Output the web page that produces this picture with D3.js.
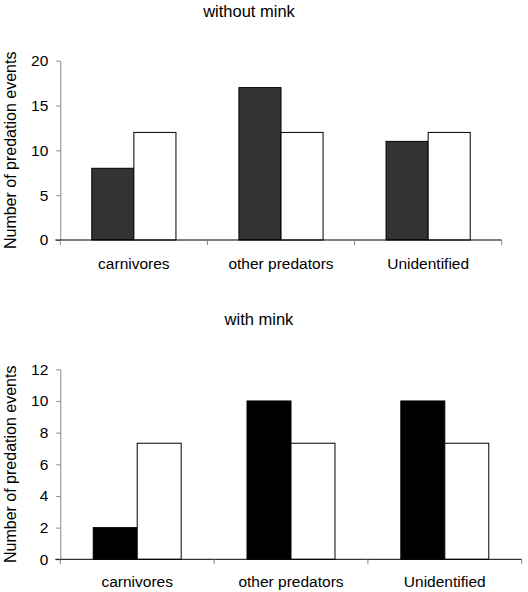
<!DOCTYPE html>
<html>
<head>
<meta charset="utf-8">
<style>
    body { margin: 0; background: #fff; }
    svg { display: block; font-family: "Liberation Sans", Arial, sans-serif; }
</style>
</head>
<body>
<div id="chart"></div>
<script src="https://cdnjs.cloudflare.com/ajax/libs/d3/7.8.5/d3.min.js"></script>
<script>
    let categories = ["carnivores", "other predators", "Unidentified"];
    let seriesNames = ["observed", "expected"];

    // without mink
    let observedWithout = [8, 17, 11];
    let expectedWithout = [12, 12, 12];
    let ticksWithout = [0, 5, 10, 15, 20];

    // with mink
    let observedWith = [2, 10, 10];
    let expectedWith = [7.33, 7.33, 7.33];
    let ticksWith = [0, 2, 4, 6, 8, 10, 12];

    let w = 528, h = 592;
    let svg = d3.select("#chart").append("svg")
        .attr("width", w)
        .attr("height", h);

    function drawPanel(cfg) {
        let g = svg.append("g");

        let x0 = d3.scaleBand().domain(categories).range([cfg.left, cfg.right]).padding(0);
        let bw = x0.bandwidth();
        let x1 = d3.scaleBand().domain(seriesNames).range([bw * 0.214, bw * 0.786]).padding(0);
        let y = d3.scaleLinear().domain([0, cfg.max]).range([cfg.bottom, cfg.top]);

        // title
        g.append("text")
            .attr("x", cfg.titleX)
            .attr("y", cfg.titleY)
            .attr("text-anchor", "middle")
            .attr("dominant-baseline", "middle")
            .attr("font-size", 16.5)
            .text(cfg.title);

        // bars
        let rows = categories.map((c, i) => ({ cat: c, vals: [cfg.obs[i], cfg.exp[i]] }));
        let grp = g.selectAll("g.grp").data(rows).enter().append("g")
            .attr("class", "grp")
            .attr("transform", d => "translate(" + x0(d.cat) + ",0)");
        grp.selectAll("rect")
            .data(d => d.vals.map((v, j) => ({ s: seriesNames[j], v: v })))
            .enter().append("rect")
            .attr("x", d => x1(d.s))
            .attr("y", d => y(d.v))
            .attr("width", x1.bandwidth())
            .attr("height", d => y(0) - y(d.v))
            .attr("fill", d => d.s == "observed" ? cfg.dark : "#fff")
            .attr("stroke", "#000")
            .attr("stroke-width", 1);

        // y axis
        let ya = g.append("g")
            .attr("transform", "translate(" + cfg.left + ",0)")
            .call(d3.axisLeft(y).tickValues(cfg.ticks).tickSize(4).tickPadding(8).tickSizeOuter(0));
        ya.select(".domain").attr("stroke", "#888");
        ya.selectAll(".tick line").attr("stroke", "#888");
        ya.selectAll(".tick text").attr("font-size", 15.5).attr("fill", "#000")
            .attr("font-family", "Liberation Sans, Arial, sans-serif");

        // x axis line + category boundary ticks
        g.append("line")
            .attr("x1", cfg.left - 5).attr("x2", cfg.right)
            .attr("y1", y(0)).attr("y2", y(0))
            .attr("stroke", "#000");
        let bounds = categories.map(c => x0(c)).concat([x0(categories[categories.length - 1]) + bw]);
        g.selectAll("line.xt").data(bounds).enter().append("line")
            .attr("class", "xt")
            .attr("x1", d => d).attr("x2", d => d)
            .attr("y1", y(0)).attr("y2", y(0) + 5)
            .attr("stroke", "#888");

        g.selectAll("text.cat").data(categories).enter().append("text")
            .attr("class", "cat")
            .attr("x", d => x0(d) + bw / 2)
            .attr("y", y(0) + cfg.labelOff)
            .attr("text-anchor", "middle")
            .attr("dominant-baseline", "middle")
            .attr("font-size", 15.5)
            .text(d => d);

        // y label
        g.append("text")
            .attr("transform", "translate(12," + ((cfg.top + cfg.bottom) / 2) + ") rotate(-90)")
            .attr("text-anchor", "middle")
            .attr("dominant-baseline", "middle")
            .attr("font-size", 16)
            .text("Number of predation events");
    }

    drawPanel({
        title: "without mink", titleX: 249, titleY: 13,
        left: 60.3, right: 501.7, top: 60.7, bottom: 240, max: 20,
        obs: observedWithout, exp: expectedWithout, ticks: ticksWithout,
        dark: "#333333", labelOff: 25
    });
    drawPanel({
        title: "with mink", titleX: 259, titleY: 321,
        left: 60.3, right: 521.7, top: 369.3, bottom: 559.3, max: 12,
        obs: observedWith, exp: expectedWith, ticks: ticksWith,
        dark: "#000000", labelOff: 24
    });
</script>
</body>
</html>
